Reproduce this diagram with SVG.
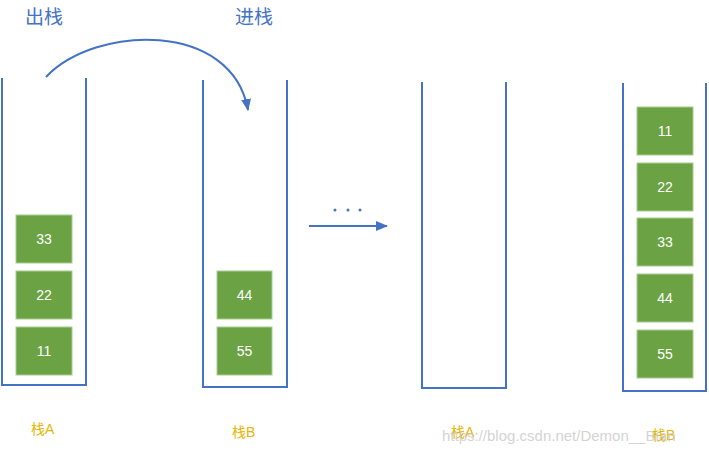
<svg xmlns="http://www.w3.org/2000/svg" width="709" height="453" viewBox="0 0 709 453">
<style>
.stack{fill:none;stroke:#4472C4;stroke-width:2}
.box rect{fill:#6BA244;stroke:#A9CD91;stroke-width:1}
.box text{fill:#fff;font-family:"Liberation Sans","Noto Sans",sans-serif;font-size:14px;text-anchor:middle;dominant-baseline:central}
.title{fill:#4472C4;font-family:"Noto Sans CJK SC",sans-serif;font-size:19px}
.lbl{fill:#E8B500;font-family:"Liberation Sans","Noto Sans CJK SC",sans-serif;font-size:14px}
.conn{fill:none;stroke:#4472C4;stroke-width:2}
</style>
<defs>
<marker id="ah" viewBox="0 0 12 10" refX="11" refY="5" markerWidth="6" markerHeight="5" orient="auto" markerUnits="strokeWidth">
<path d="M0,0 L12,5 L0,10 z" fill="#4472C4"/>
</marker>
</defs>
<rect width="709" height="453" fill="#fff"/>
<text class="title" x="25" y="24">出栈</text>
<text class="title" x="235" y="24">进栈</text>
<g id="stackA1">
<path class="stack" d="M2,78 V385 H86 V78"/>
<g class="box"><rect x="16" y="215" width="56" height="48"/><text x="44" y="239">33</text></g>
<g class="box"><rect x="16" y="271" width="56" height="48"/><text x="44" y="295">22</text></g>
<g class="box"><rect x="16" y="327" width="56" height="48"/><text x="44" y="351">11</text></g>
<text class="lbl" x="31" y="434">栈A</text>
</g>
<g id="stackB1">
<path class="stack" d="M203,80 V387 H287 V80"/>
<g class="box"><rect x="217" y="271" width="55" height="48"/><text x="244.5" y="295">44</text></g>
<g class="box"><rect x="217" y="327" width="55" height="48"/><text x="244.5" y="351">55</text></g>
<text class="lbl" x="232" y="437">栈B</text>
</g>
<g id="stackA2">
<path class="stack" d="M422,82 V388 H506 V82"/>
<text class="lbl" x="451" y="437">栈A</text>
</g>
<g id="stackB2">
<path class="stack" d="M623,83 V391 H706 V83"/>
<g class="box"><rect x="637" y="107" width="56" height="48"/><text x="665" y="131">11</text></g>
<g class="box"><rect x="637" y="163" width="56" height="48"/><text x="665" y="187">22</text></g>
<g class="box"><rect x="637" y="218" width="56" height="48"/><text x="665" y="242">33</text></g>
<g class="box"><rect x="637" y="274" width="56" height="48"/><text x="665" y="298">44</text></g>
<g class="box"><rect x="637" y="330" width="56" height="48"/><text x="665" y="354">55</text></g>
<text class="lbl" x="652" y="440">栈B</text>
</g>
<g id="connectors">
<path class="conn" d="M46,77 C95,25 232,20 248,110" marker-end="url(#ah)"/>
<path class="conn" d="M309,226 H387" marker-end="url(#ah)"/>
<circle cx="335" cy="210" r="1.5" fill="#4472C4"/>
<circle cx="348" cy="210" r="1.5" fill="#4472C4"/>
<circle cx="360" cy="210" r="1.5" fill="#4472C4"/>
</g>
<text x="442" y="441" fill="#c8c8c8" fill-opacity="0.8" font-family="Liberation Sans,sans-serif" font-size="15">https://blog.csdn.net/Demon__Bian</text>
</svg>
